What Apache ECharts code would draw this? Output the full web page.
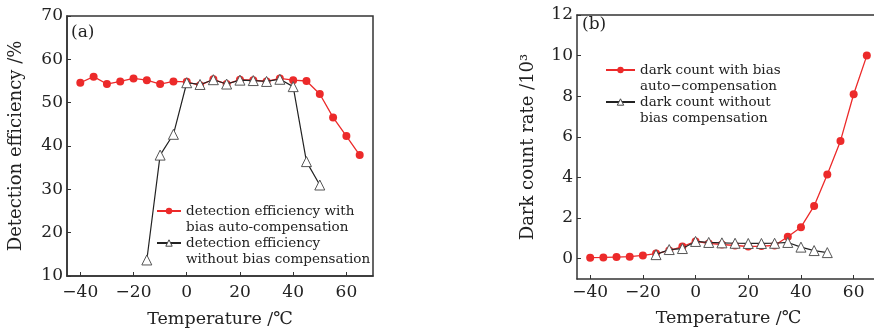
<!DOCTYPE html>
<html>
<head>
<meta charset="utf-8">
<script src="https://cdn.jsdelivr.net/npm/echarts@6/dist/echarts.min.js"></script>
<style>
html,body{margin:0;padding:0;background:#fff;overflow:hidden;}
#chart{width:874px;height:331px;}
</style>
</head>
<body>
<div id="chart"></div>
<script>
// ---- data ----
var tempA_red = [-40,-35,-30,-25,-20,-15,-10,-5,0,5,10,15,20,25,30,35,40,45,50,55,60,65];
var effWithComp = [54.6,56.0,54.3,54.9,55.6,55.2,54.3,54.9,54.8,54.0,55.4,54.3,55.3,55.2,54.9,55.6,55.2,55.0,52.0,46.6,42.3,37.9];
var tempA_black = [-15,-10,-5,0,5,10,15,20,25,30,35,40,45,50];
var effNoComp = [13.7,37.9,42.7,54.6,54.2,55.3,54.3,55.2,55.1,54.9,55.4,53.7,36.4,31.0];

var tempB_red = [-40,-35,-30,-25,-20,-15,-10,-5,0,5,10,15,20,25,30,35,40,45,50,55,60,65];
var darkWithComp = [0.05,0.06,0.08,0.1,0.16,0.25,0.4,0.6,0.85,0.75,0.7,0.65,0.6,0.62,0.65,1.08,1.55,2.6,4.15,5.8,8.1,10.0];
var tempB_black = [-15,-10,-5,0,5,10,15,20,25,30,35,40,45,50];
var darkNoComp = [0.2,0.45,0.5,0.85,0.8,0.78,0.76,0.75,0.75,0.76,0.8,0.57,0.4,0.3];

var xTicks = [-40,-20,0,20,40,60];
var yTicksA = [10,20,30,40,50,60,70];
var yTicksB = [0,2,4,6,8,10,12];

var nameA1 = 'detection efficiency with\nbias auto-compensation';
var nameA2 = 'detection efficiency\nwithout bias compensation';
var nameB1 = 'dark count with bias\nauto\u2212compensation';
var nameB2 = 'dark count without\nbias compensation';

function zip(xs, ys){ return xs.map(function(x,i){ return [x, ys[i]]; }); }

var FONT = '"DejaVu Serif", serif';
var AX = '#333';
var RED = '#ec2a2a';

function xAxis(gi, margin, nameGap){
  return {
    gridIndex: gi, type: 'value', min: -45, max: 70,
    name: 'Temperature /\u2103', nameLocation: 'middle', nameGap: nameGap,
    nameTextStyle: {fontFamily: FONT, fontSize: 17.5, color: '#222'},
    axisLine: {show: true, onZero: false, lineStyle: {color: AX, width: 1.5}},
    axisTick: {show: true, inside: true, length: 4, customValues: xTicks, lineStyle: {color: AX}},
    axisLabel: {customValues: xTicks, fontFamily: FONT, fontSize: 17, color: '#222', margin: margin,
      formatter: function(v){ return v < 0 ? '\u2212' + Math.abs(v) : String(v); }},
    splitLine: {show: false}
  };
}
function topFrameAxis(gi){
  return {
    gridIndex: gi, type: 'value', min: -45, max: 70, position: 'top',
    axisLine: {show: true, onZero: false, lineStyle: {color: AX, width: 1.5}},
    axisTick: {show: false}, axisLabel: {show: false}, splitLine: {show: false}
  };
}
function yAxis(gi, min, max, ticks, name, gap){
  return {
    gridIndex: gi, type: 'value', min: min, max: max,
    name: name, nameLocation: 'middle', nameGap: gap, nameRotate: 90,
    nameTextStyle: {fontFamily: FONT, fontSize: 18, color: '#222'},
    axisLine: {show: true, onZero: false, lineStyle: {color: AX, width: 1.5}},
    axisTick: {show: true, inside: true, length: 4, customValues: ticks, lineStyle: {color: AX}},
    axisLabel: {customValues: ticks, fontFamily: FONT, fontSize: 17, color: '#222', margin: 4},
    splitLine: {show: false}
  };
}
function redSeries(name, xi, yi, data){
  return {
    name: name, type: 'line', xAxisIndex: xi, yAxisIndex: yi, data: data,
    symbol: 'circle', symbolSize: 8, z: 2,
    lineStyle: {color: RED, width: 1.3},
    itemStyle: {color: RED, borderWidth: 0}
  };
}
function blackSeries(name, xi, yi, data){
  return {
    name: name, type: 'line', xAxisIndex: xi, yAxisIndex: yi, data: data,
    symbol: 'triangle', symbolSize: 10, z: 3,
    lineStyle: {color: '#222', width: 1.2},
    itemStyle: {color: '#fff', borderColor: '#555', borderWidth: 1}
  };
}
function legend(names, left, top, w){
  return {
    data: [
      {name: names[0]},
      {name: names[1], itemStyle: {color: '#fff', borderColor: '#444', borderWidth: 1}}
    ],
    left: left, top: top, orient: 'vertical', padding: 0,
    itemWidth: w, itemHeight: 8, itemGap: -16, selectedMode: false,
    formatter: function(n){ return '\u00a0\n' + n; },
    textStyle: {fontFamily: FONT, fontSize: 13.5, color: '#222', lineHeight: 16}
  };
}

var chart = echarts.init(document.getElementById('chart'), null, {renderer: 'canvas'});
chart.setOption({
  animation: false,
  backgroundColor: '#fff',
  title: [
    {text: '(a)', left: 71, top: 24, padding: 0, textStyle: {fontFamily: FONT, fontSize: 17, fontWeight: 'normal', color: '#222'}},
    {text: '(b)', left: 582, top: 16, padding: 0, textStyle: {fontFamily: FONT, fontSize: 17, fontWeight: 'normal', color: '#222'}}
  ],
  grid: [
    {left: 67, top: 16, width: 306, height: 260, show: true, borderColor: AX, borderWidth: 1.5, backgroundColor: 'transparent', outerBoundsMode: 'none', containLabel: false},
    {left: 577, top: 15, width: 303, height: 264, show: false, outerBoundsMode: 'none', containLabel: false}
  ],
  xAxis: [xAxis(0, 8, 34), xAxis(1, 5, 30), topFrameAxis(1)],
  yAxis: [
    yAxis(0, 10, 70, yTicksA, 'Detection efficiency /%', 42),
    yAxis(1, -1, 12, yTicksB, 'Dark count rate /10\u00b3', 40)
  ],
  legend: [
    legend([nameA1, nameA2], 156, 211 - 24, 24),
    legend([nameB1, nameB2], 605, 70 - 24, 29)
  ],
  series: [
    redSeries(nameA1, 0, 0, zip(tempA_red, effWithComp)),
    blackSeries(nameA2, 0, 0, zip(tempA_black, effNoComp)),
    redSeries(nameB1, 1, 1, zip(tempB_red, darkWithComp)),
    blackSeries(nameB2, 1, 1, zip(tempB_black, darkNoComp))
  ]
});
</script>
</body>
</html>
